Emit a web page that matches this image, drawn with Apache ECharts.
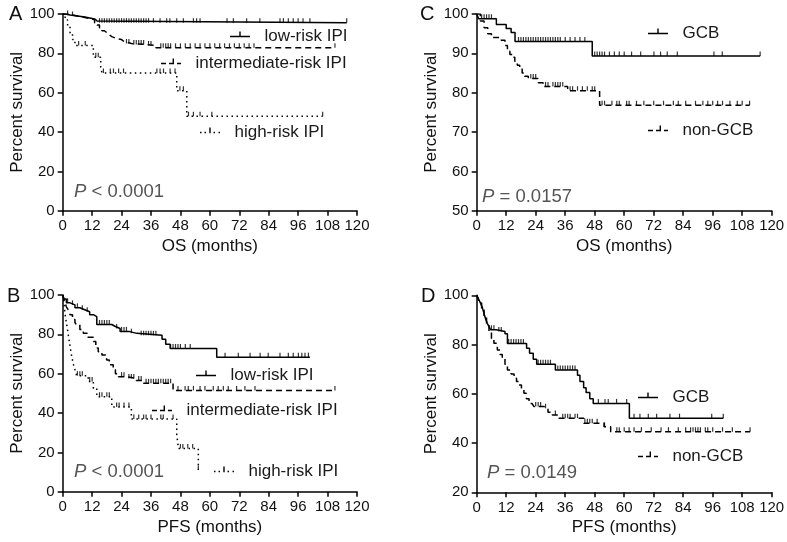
<!DOCTYPE html>
<html><head><meta charset="utf-8">
<script src="https://cdn.jsdelivr.net/npm/echarts@6/dist/echarts.min.js"></script>
<style>html,body{margin:0;padding:0;background:#fff}#c{width:787px;height:542px}</style>
</head><body><div id="c"></div>
<script>
// ---------- Axis ticks ----------
const xTicks = [0, 12, 24, 36, 48, 60, 72, 84, 96, 108, 120];

// ---------- Panel A: OS by IPI ----------
const lowOS_t = [0, 1, 3, 6, 9, 11, 13, 14, 115.8];
const lowOS_s = [100, 99.5, 99, 98.5, 98, 97.5, 96.5, 95.6, 95.6];
const lowOS_c = [2, 4, 15, 16, 17, 18, 19, 20, 21, 22, 23, 24, 25, 26, 27, 28, 29, 30, 31, 32, 33, 34, 35, 37, 39.7, 42.4, 43.7, 46.5, 49.2, 53.3, 54.6, 56, 67, 69.6, 75, 80.4, 88.6, 90, 92, 94, 96, 98, 100.8, 115.8];
const intOS_t = [0, 2, 4, 6, 8, 10, 12, 13, 14, 15, 16, 17, 18, 19, 20, 21, 22, 24, 25, 28, 34, 38, 111];
const intOS_s = [100, 99.5, 99, 98.5, 98, 97.5, 97, 95.5, 94.4, 93, 91.5, 90.5, 89.5, 88.5, 88, 87.5, 87, 86, 85, 84.5, 84, 82.8, 82.8];
const intOS_c = [26, 27, 29, 30, 31, 32, 33, 35, 36, 40, 41, 42, 43, 44, 46, 48, 50, 52, 54, 56, 58, 60, 62, 64, 66, 68, 70, 72, 74, 76, 78, 111];
const highOS_t = [0, 1, 2, 3, 4, 5, 12.5, 15.5, 16, 46.5, 50.6, 106];
const highOS_s = [100, 97, 94, 90, 87, 84, 78, 73, 70, 61, 48, 48];
const highOS_c = [6.5, 9.2, 13.5, 14.5, 16.6, 19.4, 20.7, 22.8, 24.8, 38.4, 39.7, 41.1, 43.8, 45.8, 47.8, 49.2, 51.3, 53.3, 56, 60.8, 106];

// ---------- Panel C: OS by GCB ----------
const gcbOS_t = [0, 0.8, 8, 12, 14, 15.6, 47, 115.3];
const gcbOS_s = [100, 98.8, 97.3, 96.3, 95.3, 93, 89.3, 89.3];
const gcbOS_c = [2, 3, 4, 5, 6, 17, 18, 19, 20, 21, 22, 23, 24, 25, 26, 27, 28, 29, 30, 31, 32, 33, 34, 36, 38, 40, 42, 44, 48, 49, 50, 51, 52, 54, 56, 58, 60, 63, 66.7, 72.1, 74.8, 77.5, 81.6, 96.5, 99.9, 115.3];
const ngcbOS_t = [0, 1.5, 3, 4.5, 6, 10, 11.5, 12.5, 13.5, 14.5, 15.5, 16.5, 17.5, 18.5, 19.5, 21, 25, 27, 37, 50, 111];
const ngcbOS_s = [100, 98.2, 96.5, 95, 94, 93.3, 92, 90.5, 89.7, 89, 88, 87, 86, 85, 84.2, 83.6, 82.5, 81.6, 80.5, 76.8, 76.8];
const ngcbOS_c = [22, 23, 24, 28, 29, 31, 32, 33, 34, 35, 38, 39, 41, 43, 45, 47, 48, 51, 52, 55, 57, 58, 61, 62, 65, 68, 72, 76, 80, 82, 85, 89, 92, 94, 96, 98, 100, 103, 106, 108, 111];

// ---------- Panel B: PFS by IPI ----------
const lowPFS_t = [0, 0.5, 1.5, 3, 5, 7, 9, 11, 12.5, 13.9, 20, 21.5, 23.4, 27, 30.2, 40.5, 42, 43.8, 62.8, 100.8];
const lowPFS_s = [100, 98, 96, 95, 93.5, 92.5, 91.5, 90, 89, 85, 84, 83, 81.5, 80.5, 79.5, 77.5, 75, 72.8, 68.4, 68.4];
const lowPFS_c = [2, 4, 6, 8, 10, 15, 16, 17, 18, 19, 22, 24, 25, 26, 28, 32, 33, 34, 35, 36, 37, 38, 44, 45, 46, 47, 48, 50, 52, 66.2, 71.6, 76.4, 80.5, 83.8, 88.6, 92, 94, 96.1, 97.5, 98.8, 100.2];
const intPFS_t = [0, 0.5, 1, 1.5, 2.3, 3, 4, 5, 5.7, 7, 8.4, 10, 12.5, 13.5, 14.5, 16, 17.9, 19, 20.6, 21.5, 22.7, 26, 30, 33, 45, 111];
const intPFS_s = [100, 98, 96, 94, 92.4, 90, 87.5, 86, 84.7, 82.5, 80.5, 78.5, 76.3, 73, 71.2, 69.5, 67, 64.5, 62, 60, 58.5, 57.6, 56.5, 55.1, 51.5, 51.5];
const intPFS_c = [24, 25, 27, 28, 29, 31, 32, 34, 35, 36, 37, 38, 39, 40, 41, 42, 43, 44, 47, 49.9, 51.2, 53.3, 56, 58, 61.4, 63.4, 65.5, 67.5, 70.9, 74.3, 78.4, 111];
const highPFS_t = [0, 0.5, 1, 1.5, 2, 2.5, 3, 3.5, 4.3, 5, 5.7, 10.4, 12.5, 13.9, 20, 28, 46.5, 47.2, 55.3];
const highPFS_s = [100, 96, 90, 86, 82, 78, 74, 70, 65, 62, 59, 56, 52.5, 48.3, 43, 37, 29, 22, 11];
const highPFS_c = [6, 7, 8, 11, 12, 15, 16, 18, 19, 22, 23, 25, 27, 29, 31, 33, 34, 36, 40, 41, 45, 48, 49, 51, 53, 55.3];

// ---------- Panel D: PFS by GCB ----------
const gcbPFS_t = [0, 0.5, 1, 1.6, 2.3, 3, 3.6, 4.3, 5, 5.7, 8, 11.5, 12.5, 20.3, 21.5, 23, 24.4, 32, 41, 42, 43.5, 44.5, 46, 47.4, 62.1, 100.3];
const gcbPFS_s = [100, 99, 98, 96.7, 95, 92.5, 90.5, 88.6, 87.3, 86, 85.3, 84.4, 80.4, 78.5, 76.5, 74, 72, 69.7, 67.5, 65, 62.5, 60.5, 58, 56.1, 50.1, 50.1];
const gcbPFS_c = [6, 7, 9, 10, 13, 14, 15, 16, 17, 18, 19, 25, 26, 27, 28, 29, 30, 33, 34, 35, 36, 37, 38, 39, 40, 49.5, 52.2, 53.5, 56.9, 61, 64, 66.4, 69.8, 73.2, 78.6, 82.5, 95.6, 100.3];
const ngcbPFS_t = [0, 0.5, 1, 2, 3, 4, 5, 6, 7, 8.4, 9.5, 10.4, 11.5, 12.5, 14, 15.2, 16.2, 17.2, 18.2, 19.2, 20.2, 21.3, 22.5, 23.3, 27.4, 29, 30.8, 33.5, 43.6, 51.8, 54.5, 111.2];
const ngcbPFS_s = [100, 99, 97, 94, 91, 88, 85, 82.5, 80.5, 77.8, 76, 74.4, 72, 69.7, 68, 66.3, 65, 63.6, 62, 60.2, 58, 56.1, 55.3, 54.8, 54.1, 52.5, 51.4, 50.1, 48, 46.6, 44.6, 44.6];
const ngcbPFS_c = [24, 25, 26, 28, 32, 35, 36, 37, 38, 40, 41, 44, 45, 46, 47, 49, 52, 57, 58, 60, 62, 64, 67, 71, 75, 78, 82, 85, 87, 88, 89, 90, 91, 93, 94, 96, 100, 104, 111.2];

// ---------- Labels ----------
const panelLetters = ['A', 'C', 'B', 'D'];
const pValues = ['{i|P} < 0.0001', '{i|P} = 0.0157', '{i|P} < 0.0001', '{i|P} = 0.0149'];
const xNames = ['OS (months)', 'OS (months)', 'PFS (months)', 'PFS (months)'];
const yName = 'Percent survival';

// ---------- helpers ----------
const FONT = "'Liberation Sans', Arial, Helvetica, sans-serif";
const ANCH = 'M0,0L0.01,0L0,0.01Z M20,14L19.99,14L20,13.99Z ';
const ICON_SOLID = 'path://' + ANCH + 'M0,6.3L20,6.3L20,7.7L0,7.7Z M9.3,2L10.7,2L10.7,6.3L9.3,6.3Z';
const ICON_DASH = 'path://' + ANCH + 'M0,6.3L5,6.3L5,7.7L0,7.7Z M8,6.3L13,6.3L13,7.7L8,7.7Z M16,6.3L20,6.3L20,7.7L16,7.7Z M11.6,2L13,2L13,6.3L11.6,6.3Z';
const ICON_DOT = 'path://' + ANCH + 'M0,6.3L1.5,6.3L1.5,7.7L0,7.7Z M4.5,6.3L6,6.3L6,7.7L4.5,7.7Z M13.5,6.3L15,6.3L15,7.7L13.5,7.7Z M18.5,6.3L20,6.3L20,7.7L18.5,7.7Z M9.3,2L10.7,2L10.7,7.7L9.3,7.7Z';
function pairs(t, s) { return t.map((x, i) => [x, s[i]]); }
function valAt(t, s, x) { let v = s[0]; for (let i = 0; i < t.length; i++) { if (t[i] <= x) v = s[i]; } return v; }
function cens(c, t, s) { return c.map(x => [x, valAt(t, s, x)]); }
function curve(name, t, s, dash, idx) {
  return {
    type: 'line', name: name, xAxisIndex: idx, yAxisIndex: idx, data: pairs(t, s),
    step: 'end', showSymbol: false, symbol: 'none',
    lineStyle: { color: '#000', width: 1.5, type: dash }, itemStyle: { color: '#000' },
    silent: true, z: 2, animation: false
  };
}
function censor(name, c, t, s, idx) {
  return {
    type: 'scatter', name: name + ' censored', xAxisIndex: idx, yAxisIndex: idx, data: cens(c, t, s),
    symbol: 'rect', symbolSize: [1.2, 4.5], symbolOffset: [0, -2.25],
    itemStyle: { color: '#000' }, silent: true, z: 3, animation: false
  };
}

const DASH = [6, 4];
const DOT = [1.5, 3.5];

const grids = [
  { left: 62.7, top: 14, width: 294.3, height: 196.7 },
  { left: 476.7, top: 14, width: 295, height: 196.7 },
  { left: 62.7, top: 295, width: 294.3, height: 196.7 },
  { left: 476.7, top: 295.3, width: 295, height: 197 }
].map(g => Object.assign({ outerBoundsMode: 'none', containLabel: false, show: false }, g));

const yRanges = [[0, 100, 20], [50, 100, 10], [0, 100, 20], [20, 100, 20]];

const axisCommon = {
  axisLine: { show: true, onZero: false, lineStyle: { color: '#000', width: 1.5 } },
  axisTick: { show: true, length: 5, inside: false, lineStyle: { color: '#000', width: 1.5 } },
  splitLine: { show: false },
  axisLabel: { color: '#111', fontSize: 15, fontFamily: FONT, margin: 8 },
  nameLocation: 'middle',
  nameTextStyle: { color: '#111', fontSize: 17, fontFamily: FONT }
};

const xAxes = [0, 1, 2, 3].map(i => Object.assign({}, axisCommon, {
  type: 'value', gridIndex: i, min: xTicks[0], max: xTicks[xTicks.length - 1], interval: xTicks[1] - xTicks[0],
  name: xNames[i], nameGap: 27
}));
const yAxes = [0, 1, 2, 3].map(i => Object.assign({}, axisCommon, {
  type: 'value', gridIndex: i, min: yRanges[i][0], max: yRanges[i][1], interval: yRanges[i][2],
  name: yName, nameGap: 37
}));

const series = [
  curve('low-risk IPI', lowOS_t, lowOS_s, 'solid', 0), censor('low-risk IPI', lowOS_c, lowOS_t, lowOS_s, 0),
  curve('intermediate-risk IPI', intOS_t, intOS_s, DASH, 0), censor('intermediate-risk IPI', intOS_c, intOS_t, intOS_s, 0),
  curve('high-risk IPI', highOS_t, highOS_s, DOT, 0), censor('high-risk IPI', highOS_c, highOS_t, highOS_s, 0),
  curve('GCB', gcbOS_t, gcbOS_s, 'solid', 1), censor('GCB', gcbOS_c, gcbOS_t, gcbOS_s, 1),
  curve('non-GCB', ngcbOS_t, ngcbOS_s, DASH, 1), censor('non-GCB', ngcbOS_c, ngcbOS_t, ngcbOS_s, 1),
  curve('low-risk IPI ', lowPFS_t, lowPFS_s, 'solid', 2), censor('low-risk IPI ', lowPFS_c, lowPFS_t, lowPFS_s, 2),
  curve('intermediate-risk IPI ', intPFS_t, intPFS_s, DASH, 2), censor('intermediate-risk IPI ', intPFS_c, intPFS_t, intPFS_s, 2),
  curve('high-risk IPI ', highPFS_t, highPFS_s, DOT, 2), censor('high-risk IPI ', highPFS_c, highPFS_t, highPFS_s, 2),
  curve('GCB ', gcbPFS_t, gcbPFS_s, 'solid', 3), censor('GCB ', gcbPFS_c, gcbPFS_t, gcbPFS_s, 3),
  curve('non-GCB ', ngcbPFS_t, ngcbPFS_s, DASH, 3), censor('non-GCB ', ngcbPFS_c, ngcbPFS_t, ngcbPFS_s, 3)
];

function leg(name, icon, left, top) {
  return {
    data: [{ name: name, icon: icon }], left: left, top: top, padding: 0, itemWidth: 20, itemHeight: 14,
    selectedMode: false, orient: 'horizontal', symbolKeepAspect: false,
    itemStyle: { color: '#000', borderWidth: 0 },
    formatter: n => '  ' + n.trim(),
    textStyle: { color: '#1a1a1a', fontSize: 17, fontFamily: FONT }
  };
}
const legends = [
  leg('low-risk IPI', ICON_SOLID, 230, 28), leg('intermediate-risk IPI', ICON_DASH, 161, 55), leg('high-risk IPI', ICON_DOT, 200, 124),
  leg('GCB', ICON_SOLID, 648, 25), leg('non-GCB', ICON_DASH, 648, 122),
  leg('low-risk IPI ', ICON_SOLID, 196, 367), leg('intermediate-risk IPI ', ICON_DASH, 152, 402), leg('high-risk IPI ', ICON_DOT, 214, 463),
  leg('GCB ', ICON_SOLID, 638, 389), leg('non-GCB ', ICON_DASH, 638, 448)
];

const letterPos = [[9, 4], [420, 4], [7, 286], [421, 286]];
const pPos = [[74, 182], [482, 187], [74, 462], [487, 463]];
const titles = [];
for (let i = 0; i < 4; i++) {
  titles.push({ text: panelLetters[i], left: letterPos[i][0], top: letterPos[i][1], padding: 0,
    textStyle: { fontSize: 20, fontWeight: 'normal', color: '#111', fontFamily: FONT } });
  titles.push({ text: pValues[i], left: pPos[i][0], top: pPos[i][1], padding: 0,
    textStyle: { fontSize: 18.5, fontWeight: 'normal', color: '#555', fontFamily: FONT,
      rich: { i: { fontSize: 18.5, fontStyle: 'italic', color: '#555', fontFamily: FONT } } } });
}

const chart = echarts.init(document.getElementById('c'), null, { renderer: 'canvas' });
chart.setOption({
  animation: false,
  backgroundColor: '#fff',
  title: titles,
  legend: legends,
  grid: grids,
  xAxis: xAxes,
  yAxis: yAxes,
  series: series
});
</script></body></html>
